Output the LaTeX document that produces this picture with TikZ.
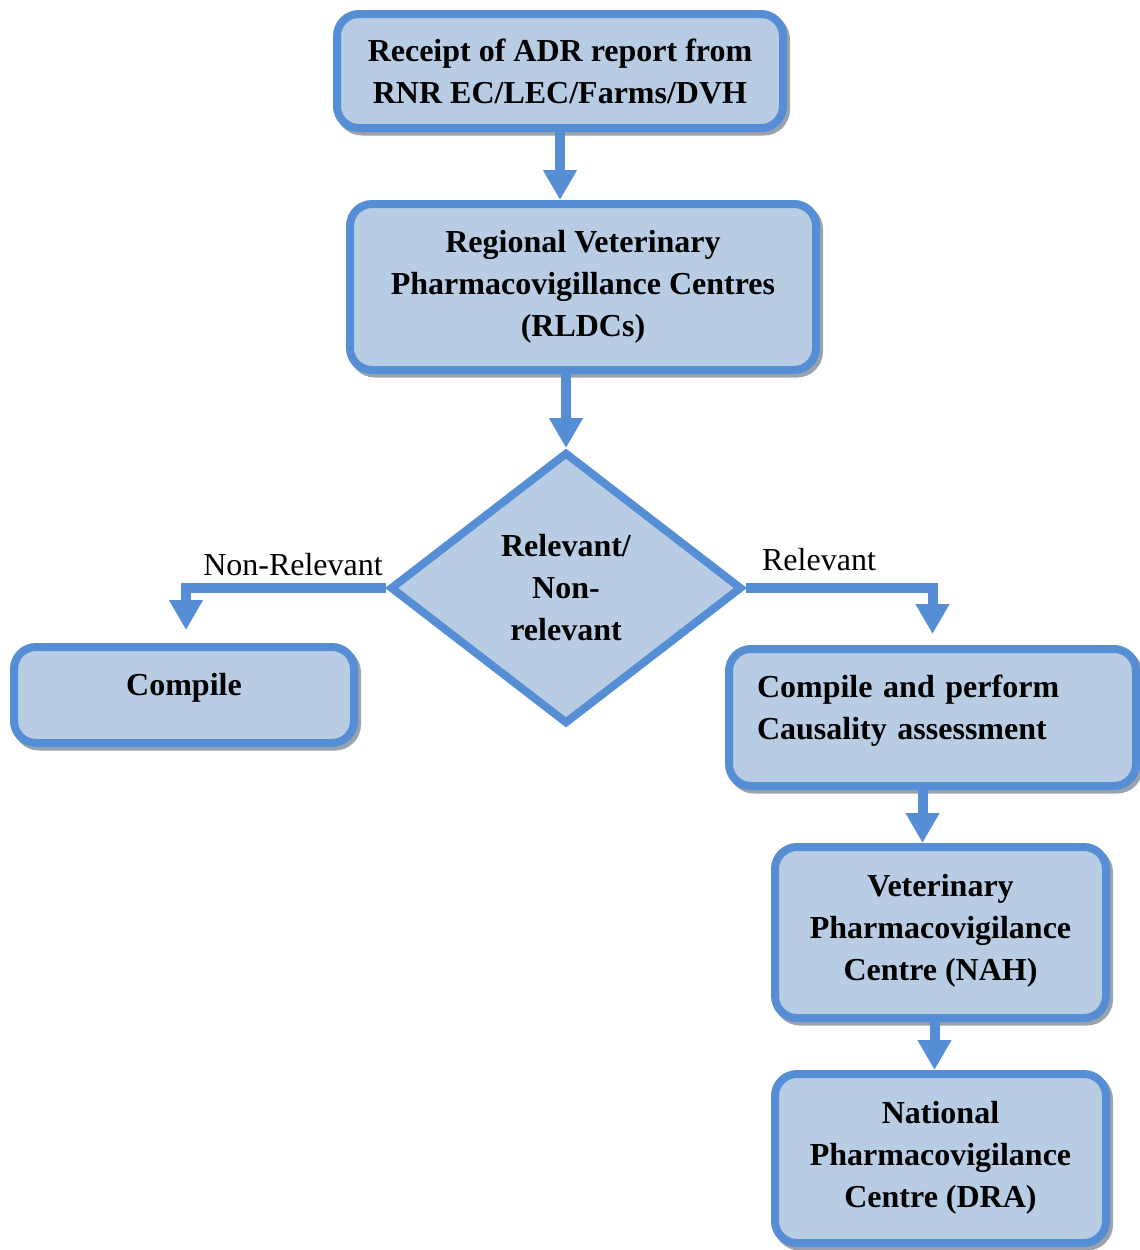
\documentclass[tikz,border=0pt]{standalone}
\usepackage{fontspec}
\setmainfont{Liberation Serif}
\usetikzlibrary{shapes.geometric,arrows.meta,shadows,calc}
\definecolor{boxfill}{HTML}{B8CCE4}
\definecolor{boxline}{HTML}{558ED5}
\definecolor{shadowgray}{HTML}{9AA2AC}
\begin{document}
\begin{tikzpicture}[x=1pt,y=-1pt,
  boxtxt/.style={font=\fontsize{32}{42}\selectfont\bfseries},
  box/.style={boxtxt, draw=boxline, fill=boxfill, line width=8pt, rounded corners=22pt,
    inner sep=0pt, align=center,
    drop shadow={shadow xshift=3pt, shadow yshift=-3.5pt, fill=shadowgray, draw=shadowgray,
      line width=8pt, opacity=1}},
  dia/.style={boxtxt, draw=boxline, fill=boxfill, line width=8pt, diamond, aspect=1.3,
    inner sep=0pt, align=center},
  arr/.style={draw=boxline, line width=10pt, -{Triangle[width=32pt,length=30pt]}},
  lbl/.style={font=\fontsize{32}{42}\selectfont}
]
\useasboundingbox (0,0) rectangle (1140,1250);

\node[box, minimum width=446pt, minimum height=114pt] (b1) at (560,71)
  {Receipt of ADR report from\\RNR EC/LEC/Farms/DVH};
\node[box, minimum width=466pt, minimum height=166pt] (b2) at (583,287)
  {Regional Veterinary\\Pharmacovigillance Centres\\(RLDCs)};
\node[dia, minimum width=352pt, minimum height=272pt] (d) at (566,588)
  {Relevant/\\Non-\\relevant};
\node[box, minimum width=340pt, minimum height=96pt] (cmp) at (184,695)
  {\smash{Compile}};
\node[box, minimum width=407pt, minimum height=137pt, align=left, text width=351pt,
  text depth=63pt] (cpca) at (932.5,717.5)
  {Compile and perform\\Causality assessment};
\node[box, minimum width=331pt, minimum height=171pt, text depth=11pt] (vpc) at (940.5,932.5)
  {Veterinary\\Pharmacovigilance\\Centre (NAH)};
\node[box, minimum width=331pt, minimum height=169pt, text depth=8pt] (npc) at (940.5,1158.5)
  {National\\Pharmacovigilance\\Centre (DRA)};

\node[lbl] (lnr) at (293,565) {Non-Relevant};
\node[lbl] (lr) at (819,560) {Relevant};

\draw[arr] (b1.south) -- (b1.south |- b2.north);
\draw[arr] (d.north |- b2.south) -- (d.north);
\draw[arr] (d.west) -| ([xshift=2pt,yshift=13pt]cmp.north);
\draw[arr] (d.east) -| ([yshift=11pt]cpca.north);
\draw[arr] ([xshift=-10pt]cpca.south) -- ([xshift=-10pt]cpca.south |- vpc.north);
\draw[arr] ([xshift=-6pt]vpc.south) -- ([xshift=-6pt]vpc.south |- npc.north);
\end{tikzpicture}
\end{document}
